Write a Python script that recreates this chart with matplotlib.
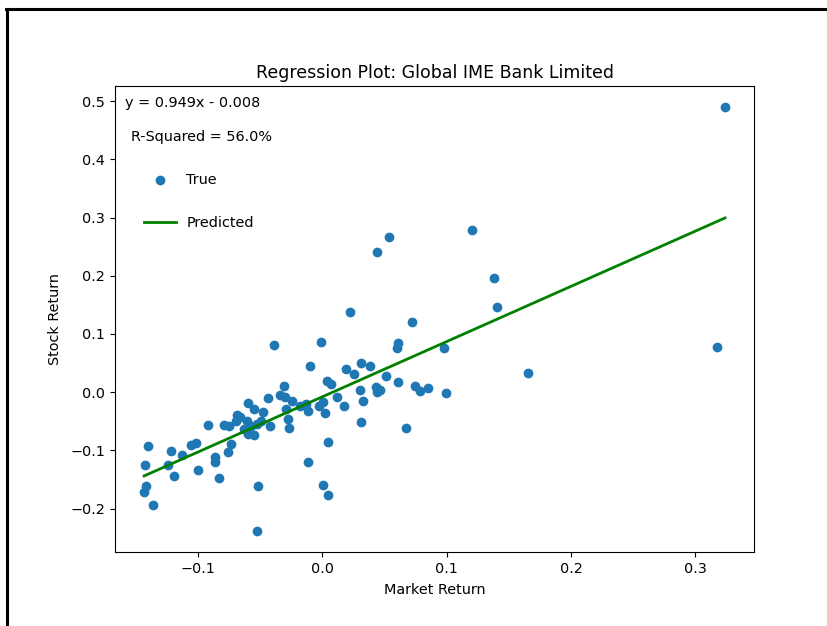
import matplotlib
matplotlib.use("Agg")
import matplotlib.pyplot as plt
from matplotlib.lines import Line2D
import numpy as np

market_return = [
    -0.0921, -0.0788, -0.0750, -0.0682, -0.0658, -0.0694, -0.0606, -0.0574, -0.0628, -0.0494,
    -0.0521, -0.0598, -0.0548, -0.0480, -0.0601, -0.0548, -0.0734, -0.0761, -0.0434, -0.0422,
    -0.0342, -0.0308, -0.0302, -0.0240, -0.0294, -0.0278, -0.0266, -0.0182, -0.0130, -0.0114,
    -0.0026, 0.0006, 0.0026, 0.0038, 0.0072, 0.0115, 0.0173, 0.0187, 0.0259, 0.0312,
    0.0383, 0.0301, 0.0327, 0.0315, 0.0435, 0.0467, 0.0443, 0.0511, 0.0613, 0.0743,
    0.0783, 0.0854, 0.0991, 0.0673, 0.0048, -0.0112, 0.0005, 0.0048, -0.0514, -0.0526,
    -0.0102, -0.0008, -0.0390, 0.0220, 0.0718, 0.0613, 0.0601, 0.0981, 0.0440, 0.0533,
    0.1201, 0.1380, 0.1404, 0.1652, 0.3174, 0.3238, -0.1401, -0.1217, -0.1055, -0.1015,
    -0.1127, -0.0860, -0.0860, -0.1429, -0.1241, -0.0999, -0.1196, -0.0828, -0.1415, -0.1433,
    -0.1357,
]
stock_return = [
    -0.0563, -0.0563, -0.0585, -0.0392, -0.0431, -0.0495, -0.0489, -0.0575, -0.0632, -0.0489,
    -0.0546, -0.0192, -0.0284, -0.0335, -0.0717, -0.0734, -0.0888, -0.1030, -0.0092, -0.0580,
    -0.0041, 0.0110, -0.0089, -0.0147, -0.0289, -0.0460, -0.0623, -0.0238, -0.0195, -0.0318,
    -0.0233, -0.0175, -0.0358, 0.0199, 0.0139, -0.0089, -0.0238, 0.0395, 0.0310, 0.0498,
    0.0455, 0.0036, -0.0144, -0.0517, 0.0082, 0.0044, 0.0002, 0.0276, 0.0178, 0.0110,
    0.0027, 0.0079, -0.0015, -0.0609, -0.0854, -0.1201, -0.1590, -0.1761, -0.1619, -0.2382,
    0.0455, 0.0869, 0.0811, 0.1379, 0.1212, 0.0849, 0.0763, 0.0767, 0.2410, 0.2666,
    0.2779, 0.1953, 0.1456, 0.0327, 0.0772, 0.4896, -0.0928, -0.1003, -0.0905, -0.0876,
    -0.1088, -0.1119, -0.1201, -0.1248, -0.1248, -0.1345, -0.1441, -0.1470, -0.1619, -0.1715,
    -0.1941,
]
slope = 0.949
intercept = -0.008
r_squared = 56.0

x = np.array(market_return)
y = np.array(stock_return)
order = np.argsort(x)
predicted = slope * x + intercept

FS = 10.4
W, H = 827, 626
fig = plt.figure(figsize=(W / 100, H / 100), dpi=100)
ax = fig.add_axes([115 / W, 1 - 552 / H, (754 - 115) / W, (552 - 86) / H])

ax.scatter(x, y, color="#1f77b4", label="True", zorder=2)
ax.plot(x[order], predicted[order], color="green", lw=2, label="Predicted", zorder=3)

ax.set_title("Regression Plot: Global IME Bank Limited", fontsize=12.5)
ax.set_xlabel("Market Return", fontsize=FS, labelpad=5)
ax.set_ylabel("Stock Return", fontsize=FS, labelpad=6)
ax.tick_params(labelsize=FS)

ax.text(0.0156, 0.9635, f"y = {slope}x - {abs(intercept):.3f}", transform=ax.transAxes,
        fontsize=FS, va="center", ha="left")
ax.text(0.025, 0.8906, f"R-Squared = {r_squared:.1f}%", transform=ax.transAxes,
        fontsize=FS, va="center", ha="left")

ax.legend(loc="upper left", bbox_to_anchor=(0.037, 0.826), borderaxespad=0,
          frameon=False, labelspacing=2.05, handlelength=2.2, handletextpad=0.7,
          fontsize=FS)

# page frame
fig.add_artist(Line2D([6 / W, 1], [1 - 9 / H, 1 - 9 / H], color="black", lw=2.2,
                      transform=fig.transFigure))
fig.add_artist(Line2D([7 / W, 7 / W], [0, 1 - 9 / H], color="black", lw=2.2,
                      transform=fig.transFigure))

fig.savefig("out.png", dpi=100)
